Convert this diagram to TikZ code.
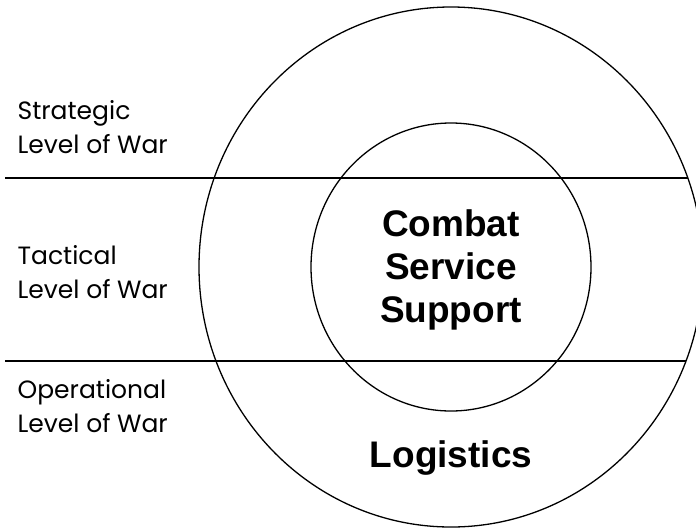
\documentclass[tikz,border=0pt]{standalone}
\usepackage{fontspec}
\setmainfont{Liberation Sans}
\newfontfamily\gothic{Poppins}
\usetikzlibrary{positioning}

\begin{document}
\begin{tikzpicture}[x=1pt, y=-1pt, line width=1.3pt, level/.style={
        font=\gothic\fontsize{25}{34}\selectfont,
        align=left,
        inner sep=0pt,
        anchor=base west
    }, core/.style={
        font=\bfseries\fontsize{37}{43}\selectfont,
        align=center,
        inner sep=0pt
    }]
    \useasboundingbox (0,0) rectangle (696,528);
    \coordinate (centre) at (451,267);
    \draw (centre) ellipse [x radius=252, y radius=260];
    \draw (centre) ellipse [x radius=140, y radius=144];
    \coordinate (top west) at (5,178);
    \coordinate (top east) at (688,178);
    \coordinate (low west) at (5,361);
    \coordinate (low east) at (686,361);
    \draw (top west) -- (top east);
    \draw (low west) -- (low east);
    \node (strategic) [level] at (17,153) {Strategic\\Level of War};
    \node (tactical) [level] at (17,298) {Tactical\\Level of War};
    \node (operational) [level] at (17,432) {Operational\\Level of War};
    \node (css) [core] at (451,270) {Combat\\Service\\Support};
    \node (logistics) [core, anchor=base] at (451,467) {Logistics};

\end{tikzpicture}
\end{document}
